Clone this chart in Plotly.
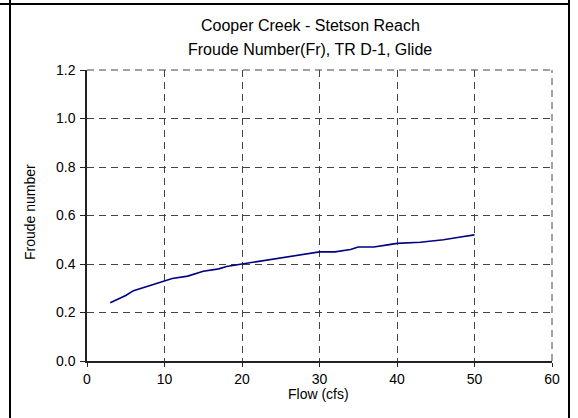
import plotly.graph_objects as go

flow = [3, 5, 6, 8, 10, 11, 13, 15, 17, 18, 20, 22, 25, 28, 30, 32, 34, 35, 37, 39, 40, 43, 46, 48, 50]
froude = [0.24, 0.27, 0.29, 0.31, 0.33, 0.34, 0.35, 0.37, 0.38, 0.39, 0.40, 0.41, 0.425, 0.44,
          0.45, 0.45, 0.46, 0.47, 0.47, 0.48, 0.485, 0.49, 0.50, 0.51, 0.52]

title_lines = ["Cooper Creek - Stetson Reach", "Froude Number(Fr), TR D-1, Glide"]
x_title = "Flow (cfs)"
y_title = "Froude number"

W, H = 578, 418
L, R, T, B = 87, 552, 70, 361
pw, ph = R - L, B - T

def px(x):
    return (x - L) / pw

def py(y):
    return (B - y) / ph

FONT = "Liberation Sans, Arial, sans-serif"

fig = go.Figure()
fig.add_trace(go.Scatter(x=flow, y=froude, mode="lines",
                         line=dict(color="#000080", width=1.6), showlegend=False))

fig.update_layout(
    width=W, height=H,
    margin=dict(l=L, r=W - R, t=T, b=H - B, pad=0),
    paper_bgcolor="white", plot_bgcolor="white",
    font=dict(family=FONT, size=14, color="black"),
    xaxis=dict(range=[0, 60], dtick=10, tick0=0, showgrid=True, gridcolor="#444",
               griddash="7px,5px", gridwidth=1, showline=True, linecolor="#222", linewidth=1.5,
               ticks="outside", ticklen=4, tickcolor="#222", zeroline=False,
               tickfont=dict(size=14, family=FONT)),
    yaxis=dict(range=[0, 1.2], dtick=0.2, tick0=0, tickformat=".1f", showgrid=True,
               gridcolor="#444", griddash="7px,5px", gridwidth=1, showline=True,
               linecolor="#222", linewidth=1.5, ticks="outside", ticklen=5, tickcolor="#222",
               zeroline=False, tickfont=dict(size=14, family=FONT), ticklabelstandoff=2),
)

# plot frame: dashed top and right edges
fig.add_shape(type="line", xref="paper", yref="paper", x0=0, x1=1, y0=1, y1=1,
              line=dict(color="#444", width=1, dash="7px,5px"))
fig.add_shape(type="line", xref="paper", yref="paper", x0=1, x1=1, y0=0, y1=1,
              line=dict(color="#444", width=1, dash="7px,5px"))

# outer cell frame
fig.add_shape(type="line", xref="paper", yref="paper", x0=px(0), x1=px(569), y0=py(4), y1=py(4),
              line=dict(color="black", width=2))
fig.add_shape(type="line", xref="paper", yref="paper", x0=px(10), x1=px(10), y0=py(0), y1=py(418),
              line=dict(color="black", width=2))
fig.add_shape(type="line", xref="paper", yref="paper", x0=px(569), x1=px(569), y0=py(0), y1=py(418),
              line=dict(color="black", width=2))

# titles
fig.add_annotation(text=title_lines[0], xref="paper", yref="paper", x=px(310), y=py(25.5),
                   xanchor="center", yanchor="middle", showarrow=False, font=dict(size=16))
fig.add_annotation(text=title_lines[1], xref="paper", yref="paper", x=px(310), y=py(49),
                   xanchor="center", yanchor="middle", showarrow=False, font=dict(size=16))
fig.add_annotation(text=x_title, xref="paper", yref="paper", x=px(318), y=py(394),
                   xanchor="center", yanchor="middle", showarrow=False, font=dict(size=14))
fig.add_annotation(text=y_title, xref="paper", yref="paper", x=px(30), y=py(212),
                   xanchor="center", yanchor="middle", showarrow=False, textangle=-90,
                   font=dict(size=14))

fig.write_html("out.html")
